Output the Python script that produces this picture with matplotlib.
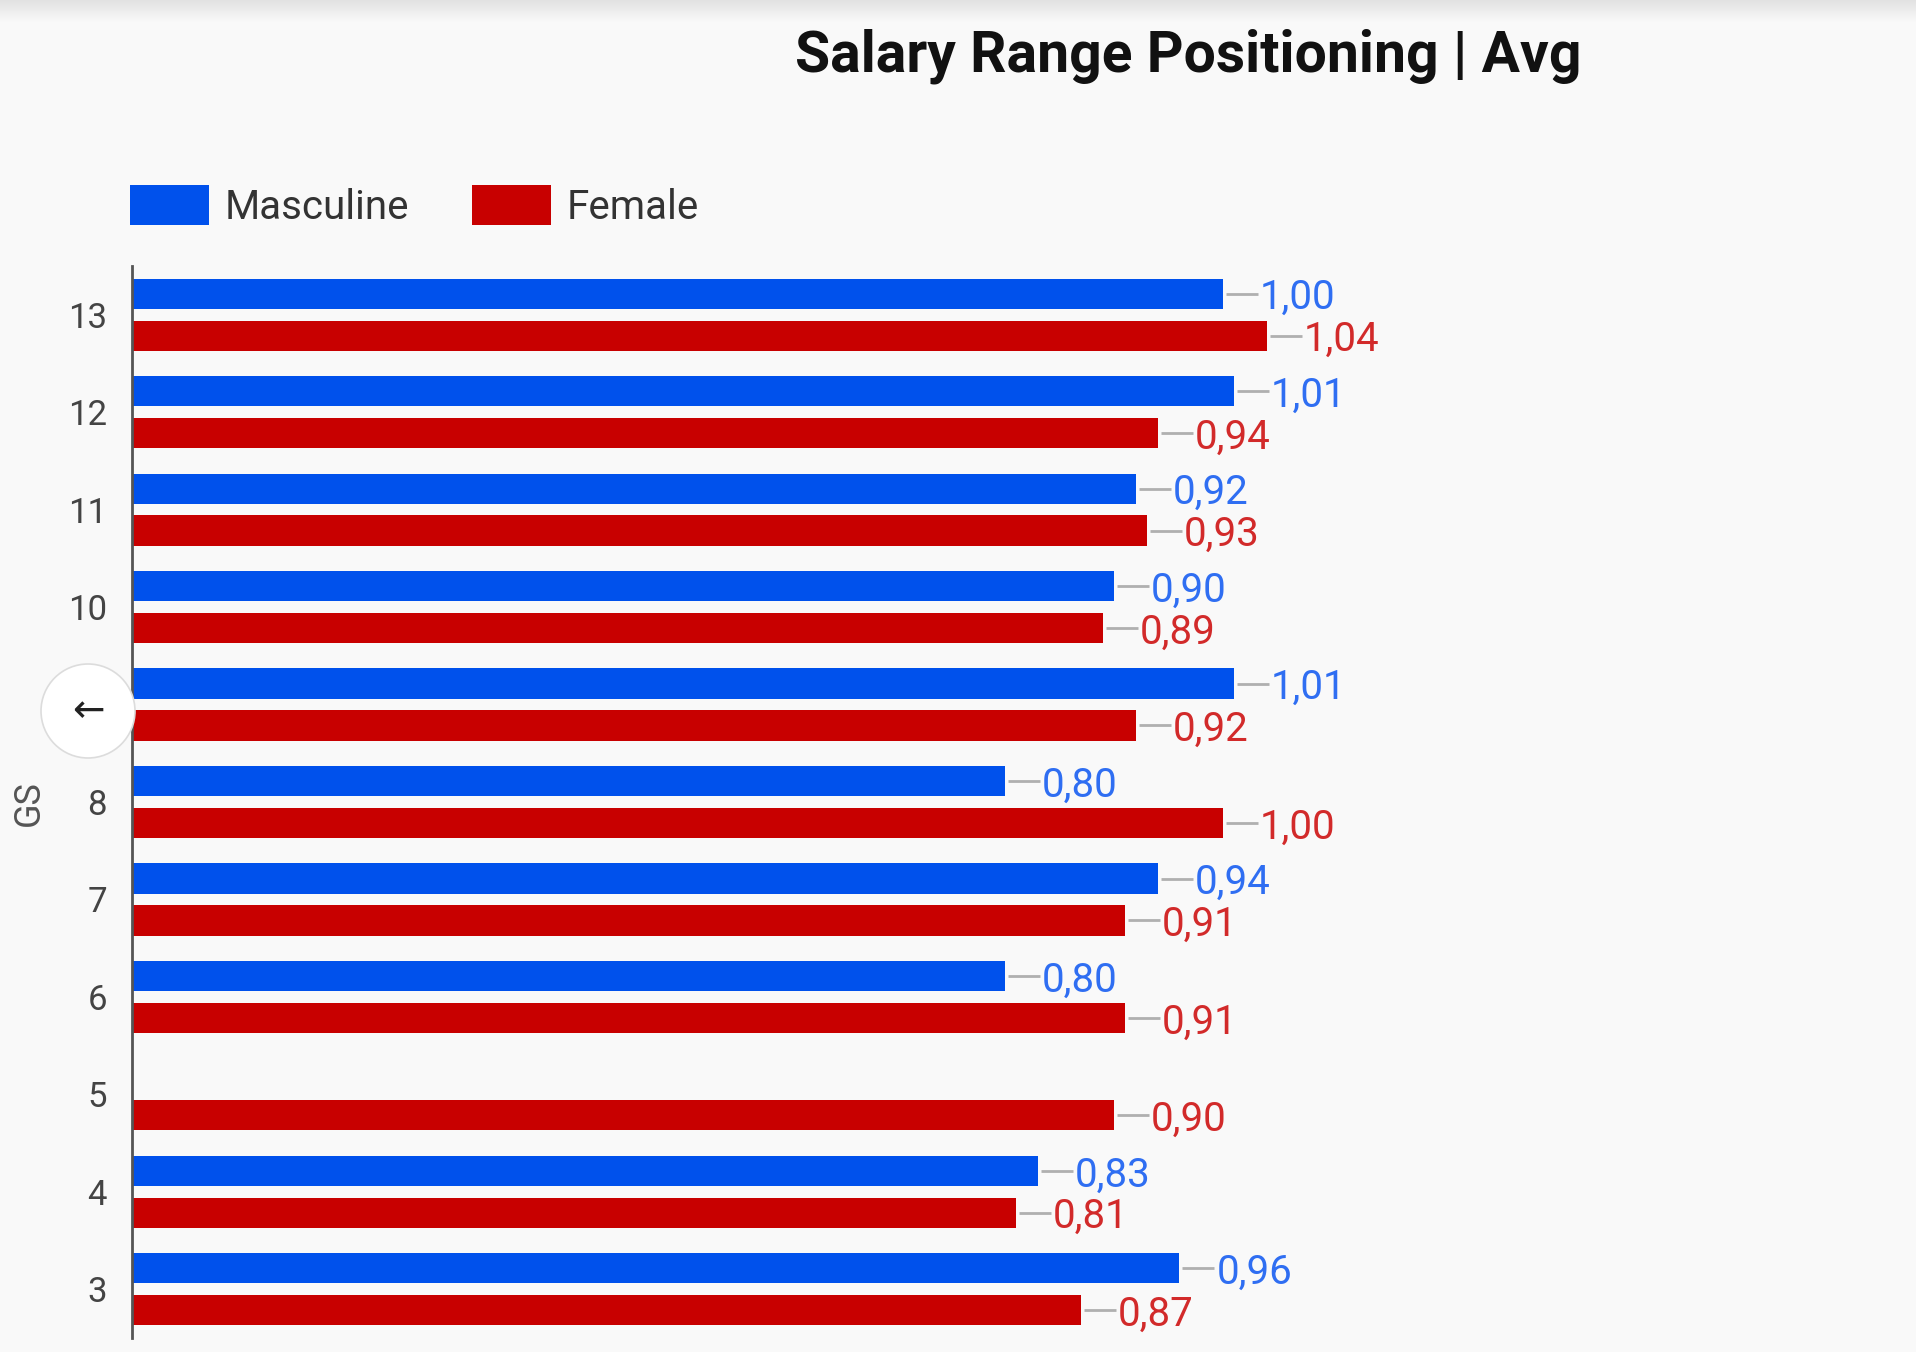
import numpy as np
import matplotlib
matplotlib.use("Agg")
import matplotlib.pyplot as plt
from matplotlib.patches import Patch, Ellipse

plt.rcParams['font.family'] = ['Roboto', 'DejaVu Sans']

# ---------------- data ----------------
grades = ["13", "12", "11", "10", "9", "8", "7", "6", "5", "4", "3"]
masculine = [1.00, 1.01, 0.92, 0.90, 1.01, 0.80, 0.94, 0.80, np.nan, 0.83, 0.96]
female = [1.04, 0.94, 0.93, 0.89, 0.92, 1.00, 0.91, 0.91, 0.90, 0.81, 0.87]
series_names = ["Masculine", "Female"]
title = "Salary Range Positioning | Avg"
y_label = "GS"

# ---------------- style ----------------
BG = "#f9f9f9"
BLUE = "#0051ec"
RED = "#c80000"
BLUE_TXT = "#2f6ef2"
RED_TXT = "#d22a2a"

W, H = 1916, 1352
fig = plt.figure(figsize=(W / 100, H / 100), dpi=100, facecolor=BG)

ax_left, ax_right, ax_top, ax_bot = 132, 1760, 266, 1338
ax = fig.add_axes([ax_left / W, 1 - ax_bot / H, (ax_right - ax_left) / W, (ax_bot - ax_top) / H])
ax.set_facecolor(BG)

px_per_unit = 1091.0
xmax = (ax_right - ax_left) / px_per_unit
ax.set_xlim(0, xmax)

n = len(grades)
ypos = np.arange(n)[::-1].astype(float)
bh = 0.31
off = 0.215

ax.barh(ypos + off, masculine, height=bh, color=BLUE, zorder=2)
ax.barh(ypos - off, female, height=bh, color=RED, zorder=2)

def px(p):
    return p / px_per_unit

for vals, dy, tc in ((masculine, off, BLUE_TXT), (female, -off, RED_TXT)):
    for y, v in zip(ypos, vals):
        if np.isnan(v):
            continue
        ax.plot([v + px(3), v + px(35)], [y + dy, y + dy], color="#b0b0b0", lw=2.0,
                solid_capstyle="butt", zorder=2)
        ax.text(v + px(37), y + dy, f"{v:.2f}".replace(".", ","), color=tc,
                fontsize=29, va="center_baseline", ha="left", zorder=3)

ax.set_ylim(-0.5, n - 0.5)
ax.set_yticks(ypos)
ax.set_yticklabels(grades)
ax.tick_params(axis="y", length=0, pad=18, labelsize=25, labelcolor="#444444")
ax.set_xticks([])
for s in ("top", "right", "bottom"):
    ax.spines[s].set_visible(False)
ax.spines["left"].set_color("#555555")
ax.spines["left"].set_linewidth(2.0)

fig.text(29 / W, 1 - 803 / H, y_label, rotation=90, fontsize=26, color="#555555",
         ha="center", va="center")

# title
fig.text(1188 / W, 1 - 56 / H, title, fontsize=41, fontweight="bold", color="#111111",
         ha="center", va="center")

# legend
handles = [Patch(facecolor=BLUE, edgecolor="none"), Patch(facecolor=RED, edgecolor="none")]
leg = fig.legend(handles, series_names, loc="center left",
                 bbox_to_anchor=(130 / W, 1 - 206 / H), ncol=2, frameon=False,
                 fontsize=29, handlelength=1.97, handleheight=1.12, handletextpad=0.38,
                 columnspacing=1.55, borderpad=0, borderaxespad=0)
for t in leg.get_texts():
    t.set_color("#333333")

# top shadow strip
grad = np.linspace(0, 1, 64).reshape(-1, 1)
sax = fig.add_axes([0, 1 - 22 / H, 1, 22 / H])
sax.imshow(grad, aspect="auto", cmap=matplotlib.colors.LinearSegmentedColormap.from_list(
    "sh", ["#e2e2e2", BG]), extent=[0, 1, 0, 1])
sax.axis("off")

# back button (covers the "9" tick label as in the reference)
circ = Ellipse((88 / W, 1 - 711 / H), 94 / W, 94 / H, transform=fig.transFigure,
               facecolor="white", edgecolor="#dcdcdc", lw=1.2, zorder=10)
fig.add_artist(circ)
fig.text(88 / W, 1 - 711 / H, "←", fontsize=28, color="#222222", ha="center",
         va="center", family=["DejaVu Sans"], zorder=11)

fig.savefig("out.png", dpi=100, facecolor=BG)
